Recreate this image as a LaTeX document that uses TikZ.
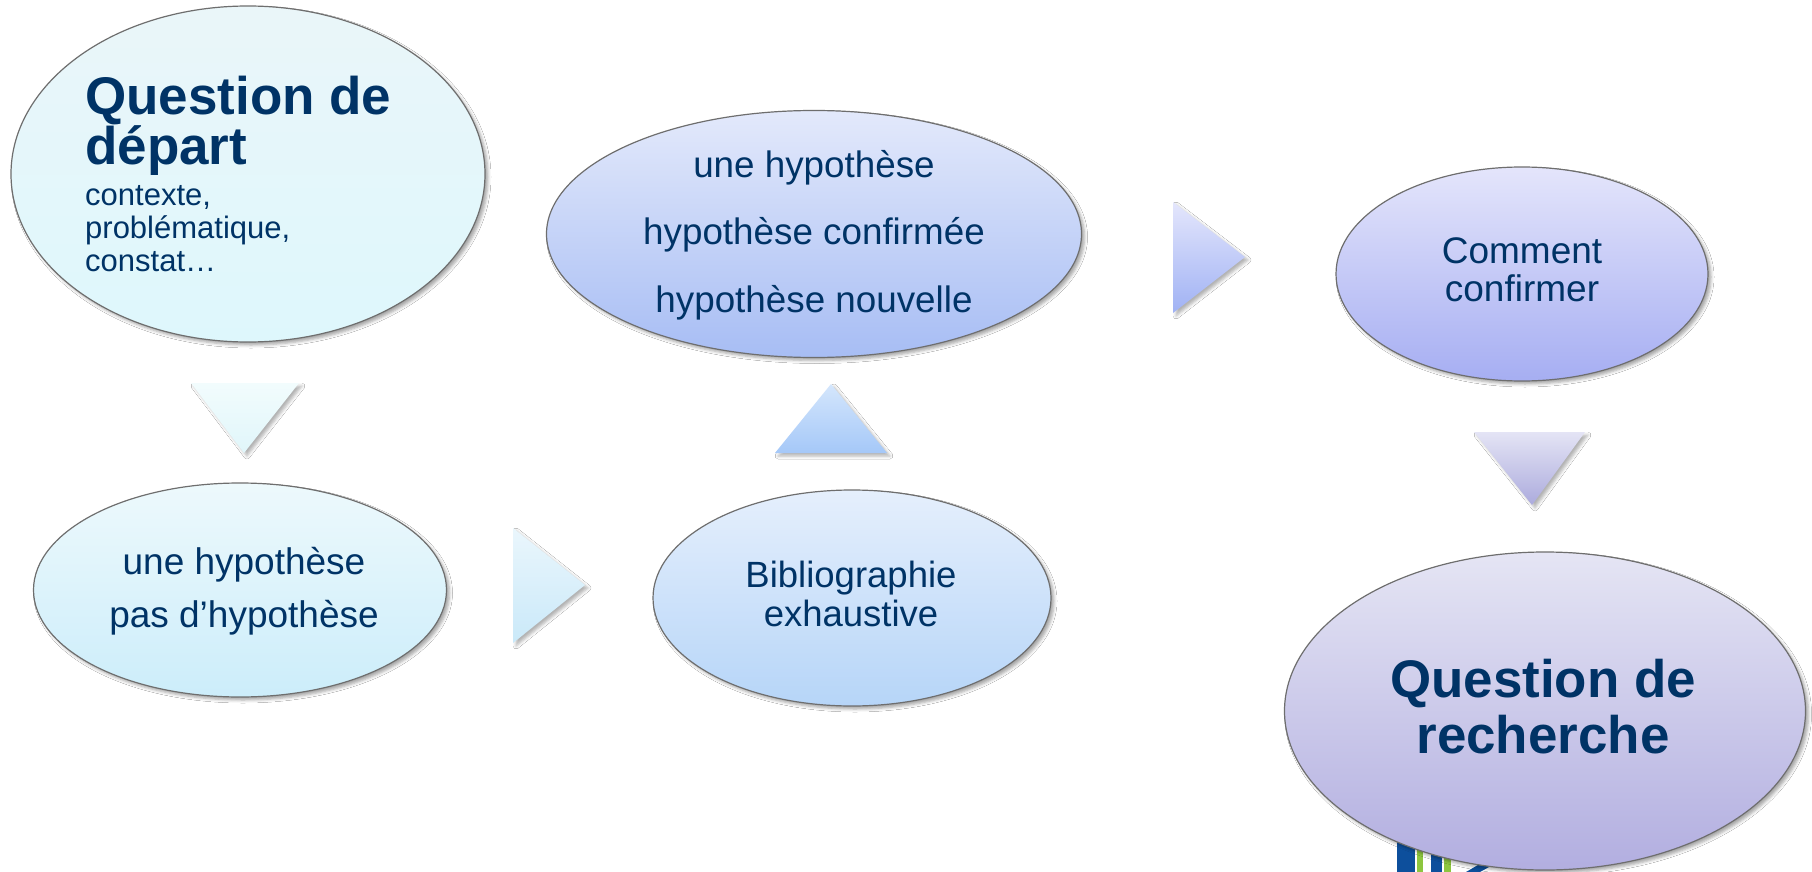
\documentclass[tikz,border=0pt]{standalone}
\usepackage{fontspec}
\setmainfont{Liberation Sans}
\usetikzlibrary{shapes.geometric,shadows.blur}

\definecolor{navy}{RGB}{0,51,102}
\definecolor{bord}{RGB}{110,110,110}
\definecolor{logobleu}{RGB}{13,79,156}
\definecolor{logovert}{RGB}{141,198,63}

\tikzset{
	bulle/.style={ellipse, draw=bord, line width=1.2pt, inner sep=0pt,
		blur shadow={shadow xshift=3pt, shadow yshift=-3pt, shadow blur radius=3pt, shadow opacity=35}},
	fleche/.style={blur shadow={shadow xshift=3pt, shadow yshift=-3pt, shadow blur radius=3pt, shadow opacity=30}},
	txt/.style={text=navy, align=center, inner sep=0pt}
}

\begin{document}
\begin{tikzpicture}[x=1pt,y=-1pt]
			\useasboundingbox (0,0) rectangle (1812,872);
			\fill[white] (0,0) rectangle (1812,872);

			\fill[logobleu] (1397,820) rectangle (1415,872);
			\fill[logovert] (1417,820) rectangle (1423,872);
			\fill[logobleu] (1431,820) rectangle (1442,872);
			\fill[logovert] (1444,820) rectangle (1451,872);
			\fill[logobleu] (1466,872) -- (1490,858) -- (1498,862) -- (1480,872) -- cycle;

			\node[bulle, minimum width=474pt, minimum height=336pt, top color={rgb,255:red,234;green,246;blue,249}, bottom color={rgb,255:red,222;green,247;blue,252}] (depart) at (248,174) {};
			\node[bulle, minimum width=413pt, minimum height=214pt, top color={rgb,255:red,237;green,249;blue,252}, bottom color={rgb,255:red,204;green,237;blue,250}] (hyp1) at (240,590) {};
			\node[bulle, minimum width=398pt, minimum height=216pt, top color={rgb,255:red,229;green,239;blue,252}, bottom color={rgb,255:red,182;green,213;blue,248}] (biblio) at (852,598) {};
			\node[bulle, minimum width=535pt, minimum height=247pt, top color={rgb,255:red,227;green,233;blue,251}, bottom color={rgb,255:red,167;green,189;blue,244}] (hyp2) at (814,234) {};
			\node[bulle, minimum width=372pt, minimum height=214pt, top color={rgb,255:red,228;green,229;blue,251}, bottom color={rgb,255:red,166;green,174;blue,242}] (comment) at (1522,274) {};
			\node[bulle, minimum width=521pt, minimum height=318pt, top color={rgb,255:red,229;green,229;blue,244}, bottom color={rgb,255:red,178;green,174;blue,224}] (recherche) at (1545,711) {};

			\node[txt, anchor=north west] (departtxt) at (85,76) {\parbox{330pt}{\fontsize{53}{50}\selectfont\bfseries Question de\\départ\par\vspace{8pt}\fontsize{31}{33}\selectfont\mdseries contexte,\\problématique,\\constat…}};
			\node[txt, font=\fontsize{37}{53}\selectfont] (hyp1txt) at (244,591) {une hypothèse\\pas d’hypothèse};
			\node[txt, font=\fontsize{36.5}{39}\selectfont] (bibliotxt) at (851,594) {Bibliographie\\exhaustive};
			\node[txt, font=\fontsize{36.8}{67.5}\selectfont] (hyp2txt) at (814,235) {une hypothèse\\hypothèse confirmée\\hypothèse nouvelle};
			\node[txt, font=\fontsize{37}{38}\selectfont] (commenttxt) at (1522,270) {Comment\\confirmer};
			\node[txt, font=\fontsize{52.9}{56}\selectfont\bfseries] (recherchetxt) at (1543,707) {Question de\\recherche};

			\shade[fleche, top color={rgb,255:red,242;green,252;blue,253}, bottom color={rgb,255:red,224;green,246;blue,250}] (191,383) -- (299,383) -- (244,453) -- cycle;
			\shade[fleche, top color={rgb,255:red,234;green,246;blue,252}, bottom color={rgb,255:red,202;green,233;blue,249}] (513,528) -- (585,585) -- (513,643) -- cycle;
			\shade[fleche, top color={rgb,255:red,212;green,230;blue,252}, bottom color={rgb,255:red,165;green,200;blue,248}] (775,453) -- (831,384) -- (887,453) -- cycle;
			\shade[fleche, top color={rgb,255:red,228;green,230;blue,252}, bottom color={rgb,255:red,160;green,178;blue,244}] (1173,202) -- (1245,257) -- (1173,313) -- cycle;
			\shade[fleche, top color={rgb,255:red,228;green,228;blue,245}, bottom color={rgb,255:red,172;green,171;blue,221}] (1474,432) -- (1585,432) -- (1532,505) -- cycle;
		\end{tikzpicture}
\end{document}
